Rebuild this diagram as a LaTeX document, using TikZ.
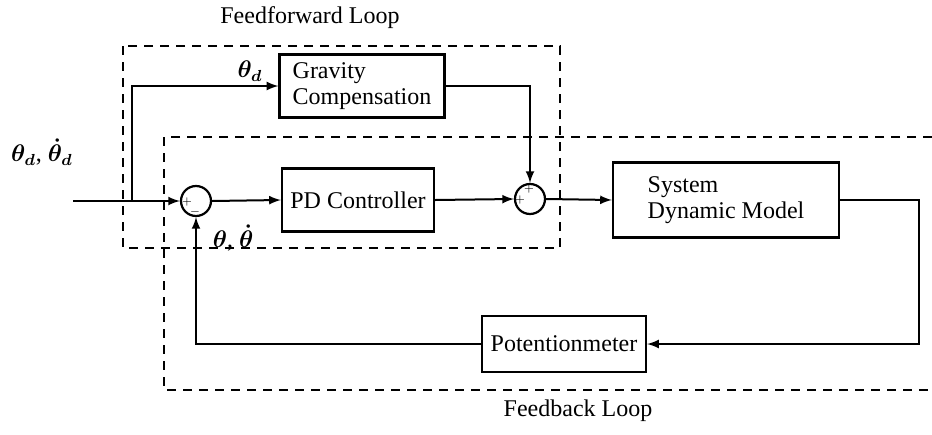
\documentclass[tikz,border=0pt]{standalone}
\usepackage{amsmath,amssymb}
\usepackage{fontspec}
\setmainfont{Liberation Serif}
\usepackage{tikz}
\usetikzlibrary{calc}

\tikzset{
  block/.style={draw=black, line width=1.2pt, rectangle, inner sep=4pt},
  sumnode/.style={draw=black, line width=1.1pt, circle, minimum size=15pt, inner sep=0pt},
  sign/.style={font=\fontsize{5}{5}\selectfont, inner sep=0pt},
  loopbox/.style={black, line width=1.1pt, dash pattern=on 4.5pt off 3.5pt},
  wire/.style={-latex, line width=1pt}
}

\begin{document}
\begin{tikzpicture}[x=0.5pt, y=-0.5pt, font=\fontsize{12}{13}\selectfont]
    \useasboundingbox (0,0) rectangle (932,434);
    % loop frames
    \draw[loopbox] (123,46) rectangle (560,248);
    \draw[loopbox] (932,137) -- (164,137) -- (164,390) -- (932,390);
    \node (fftitle) at (310,18) {Feedforward Loop};
    \node (fbtitle) at (578,411) {Feedback Loop};
    % blocks
    \node[sumnode] (sumA) at (196,201) {};
    \node[block, minimum width=76pt, minimum height=31.5pt] (pd) at (358,200) {PD Controller};
    \node[block, minimum width=82.5pt, minimum height=27.5pt, align=left] (grav) at (362,86) {Gravity\\Compensation};
    \node[sumnode] (sumB) at (530,199) {};
    \node[block, minimum width=113pt, minimum height=37.5pt, align=left] (sdm) at (726,200) {System\\Dynamic Model};
    \node[block, minimum width=82pt, minimum height=28pt] (pot) at (564,344) {Potentionmeter};
    % signs
    \node[sign] (pA1) at (187,202) {$+$};
    \node[sign] (pA2) at (195,212) {$-$};
    \node[sign] (pB1) at (529,189) {$+$};
    \node[sign] (pB2) at (520,200) {$+$};
    % connectors
    \coordinate (in) at (73,201);
    \coordinate (branch) at (132,201);
    \coordinate (turn) at (919,200);
    \draw[wire] (in) -- (sumA.west);
    \draw[wire] (branch) |- (grav.west);
    \draw[wire] (sumA.east) -- (pd.west);
    \draw[wire] (pd.east) -- (sumB.west);
    \draw[wire] (grav.east) -| (sumB.north);
    \draw[wire] (sumB.east) -- (sdm.west);
    \draw[wire] (sdm.east) -- (turn) |- (pot.east);
    \draw[wire] (pot.west) -| (sumA.south);
    % signal labels
    \node (thd) at (250,71) {$\boldsymbol{\theta_d}$};
    \node (thin) at (42,152) {$\boldsymbol{\theta_d}$, $\boldsymbol{\dot{\theta}_d}$};
    \node (thfb) at (233,238) {$\boldsymbol{\theta}$, $\boldsymbol{\dot{\theta}}$};
  \end{tikzpicture}
\end{document}
